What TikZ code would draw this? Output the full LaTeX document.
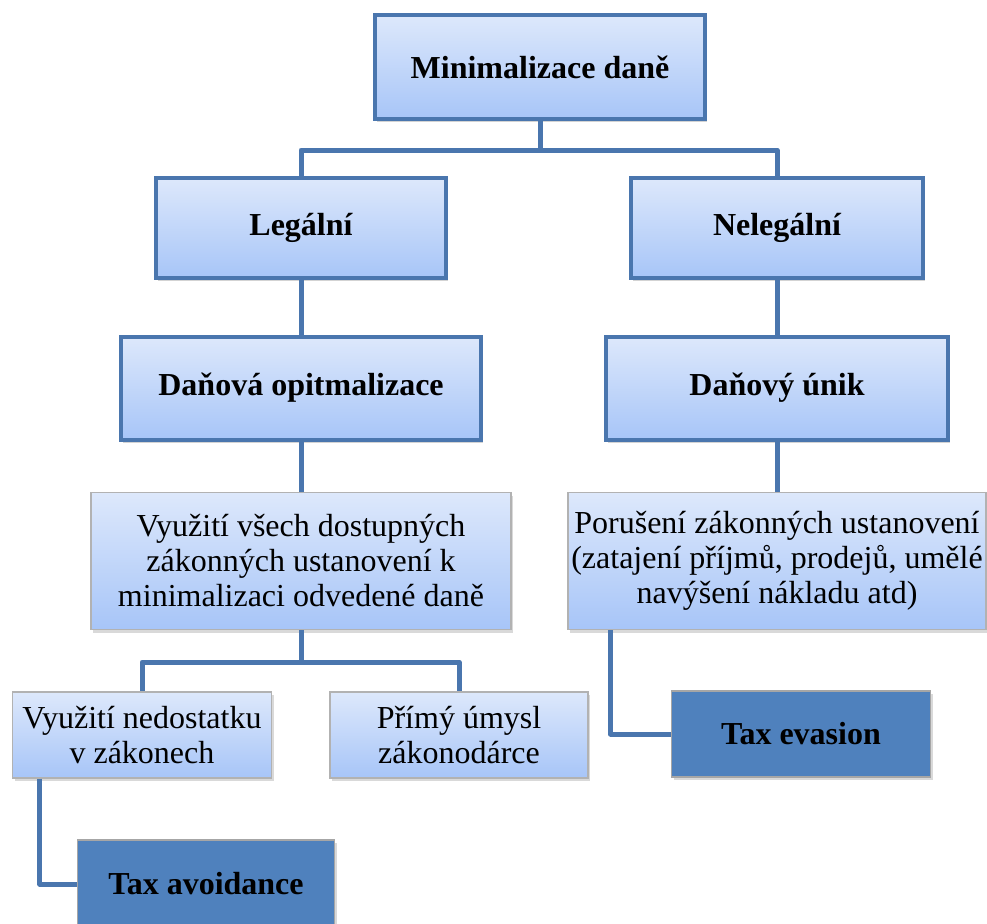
\documentclass[tikz,border=0pt]{standalone}
\usepackage{fontspec}
\setmainfont{Liberation Serif}
\usepackage{xcolor}
\usetikzlibrary{positioning, shadows}
\definecolor{edgeblue}{HTML}{4A76AE}
\definecolor{fillhi}{HTML}{DDE8FB}
\definecolor{filllo}{HTML}{A7C5F8}
\definecolor{taxblue}{HTML}{4F81BD}
\tikzset{
    headbox/.style={rectangle, draw=edgeblue, line width=4pt, top color=fillhi, bottom color=filllo,
        drop shadow={opacity=0.35, shadow xshift=2pt, shadow yshift=-3pt},
        font=\fontsize{32}{35}\selectfont\bfseries, align=center, inner sep=2pt},
    textbox/.style={rectangle, draw=gray!60, line width=1.2pt, top color=fillhi, bottom color=filllo,
        drop shadow={opacity=0.3, shadow xshift=2pt, shadow yshift=-3pt},
        font=\fontsize{32}{35}\selectfont, align=center, inner sep=2pt},
    taxbox/.style={rectangle, draw=gray!70, line width=1.2pt, fill=taxblue,
        drop shadow={opacity=0.3, shadow xshift=2pt, shadow yshift=-3pt},
        font=\fontsize{32}{35}\selectfont\bfseries, align=center, inner sep=2pt},
    link/.style={draw=edgeblue, line width=5pt, line join=round}
}

\begin{document}
\begin{tikzpicture}[x=1pt, y=-1pt]
\useasboundingbox (0,0) rectangle (987,923);

% Nodes
\node[headbox, minimum width=330pt, minimum height=104pt] (dane) at (540,67) {Minimalizace daně};
\node[headbox, minimum width=290pt, minimum height=100pt] (legal) at (301,228) {Legální};
\node[headbox, minimum width=292pt, minimum height=100pt] (illegal) at (777,228) {Nelegální};
\node[headbox, minimum width=360pt, minimum height=103pt] (optim) at (301,388) {Daňová opitmalizace};
\node[headbox, minimum width=342pt, minimum height=103pt] (unik) at (777,388) {Daňový únik};
\node[textbox, minimum width=420pt, minimum height=137pt] (vyuziti) at (301,561) {Využití všech dostupných\\zákonných ustanovení k\\minimalizaci odvedené daně};
\node[textbox, minimum width=418pt, minimum height=137pt] (poruseni) at (777,561) {Porušení zákonných ustanovení\\(zatajení příjmů, prodejů, umělé\\navýšení nákladu atd)};
\node[textbox, minimum width=259pt, minimum height=86pt] (nedostatek) at (142,735) {Využití nedostatku\\v zákonech};
\node[textbox, minimum width=258pt, minimum height=86pt] (umysl) at (459,735) {Přímý úmysl\\zákonodárce};
\node[taxbox, minimum width=257pt, minimum height=88pt] (avoid) at (206,884) {Tax avoidance};
\node[taxbox, minimum width=259pt, minimum height=86pt] (evasion) at (801,734) {Tax evasion};

% Links
\draw[link] (dane.south) -- ++(0,29) -| (legal.north);
\draw[link] (dane.south) -- ++(0,29) -| (illegal.north);
\draw[link] (legal.south) -- (optim.north);
\draw[link] (illegal.south) -- (unik.north);
\draw[link] (optim.south) -- (vyuziti.north);
\draw[link] (unik.south) -- (poruseni.north);
\draw[link] (vyuziti.south) -- ++(0,32) -| (nedostatek.north);
\draw[link] (vyuziti.south) -- ++(0,32) -| (umysl.north);
\draw[link] ([xshift=28pt]nedostatek.south west) |- (avoid.west);
\draw[link] ([xshift=43pt]poruseni.south west) |- (evasion.west);

\end{tikzpicture}
\end{document}
